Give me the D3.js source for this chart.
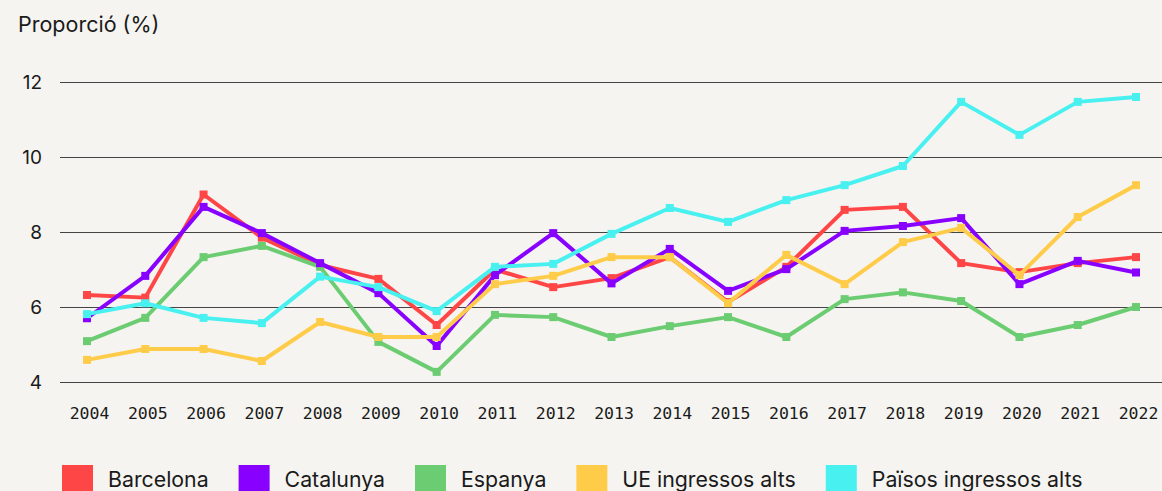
<!DOCTYPE html>
<html>
<head>
<meta charset="utf-8">
<script src="https://cdn.jsdelivr.net/npm/d3@7"></script>
<style>
  html, body { margin: 0; padding: 0; background: #f5f4f0; overflow: hidden; }
  svg { display: block; }
</style>
</head>
<body>
<div id="chart"></div>
<script>

// Data

const years = [2004, 2005, 2006, 2007, 2008, 2009, 2010, 2011, 2012, 2013,
               2014, 2015, 2016, 2017, 2018, 2019, 2020, 2021, 2022];

const barcelona = [6.32, 6.25, 9.0, 7.85, 7.12, 6.75, 5.52, 7.0, 6.53, 6.77,
                   7.33, 6.13, 7.07, 8.59, 8.67, 7.17, 6.93, 7.17, 7.33];
const catalunya = [5.7, 6.83, 8.67, 7.97, 7.17, 6.37, 4.96, 6.85, 7.97, 6.63,
                   7.55, 6.43, 7.01, 8.03, 8.16, 8.37, 6.61, 7.23, 6.92];
const espanya = [5.09, 5.71, 7.33, 7.63, 7.07, 5.07, 4.27, 5.79, 5.73, 5.2,
                 5.49, 5.73, 5.2, 6.21, 6.39, 6.16, 5.2, 5.52, 6.0];
const ueAlts = [4.59, 4.88, 4.88, 4.56, 5.6, 5.2, 5.2, 6.61, 6.83, 7.33,
                7.33, 6.1, 7.39, 6.61, 7.73, 8.11, 6.85, 8.4, 9.25];
const paisosAlts = [5.81, 6.1, 5.71, 5.57, 6.81, 6.53, 5.89, 7.07, 7.15, 7.95,
                    8.64, 8.27, 8.85, 9.25, 9.76, 11.47, 10.59, 11.47, 11.6];

const seriesNames = ["Barcelona", "Catalunya", "Espanya", "UE ingressos alts", "Països ingressos alts"];
const seriesValues = [barcelona, catalunya, espanya, ueAlts, paisosAlts];
const seriesColors = ["#ff4646", "#8800ff", "#6ccc72", "#ffcc4a", "#48f0f0"];

const yTicks = [4, 6, 8, 10, 12];

// draw order (last on top)
const drawOrder = [0, 2, 1, 3, 4];

const width = 1162;
const height = 491;

let svg = d3.select("#chart")
  .append("svg")
  .attr("width", width)
  .attr("height", height);

svg.append("rect")
  .attr("width", width)
  .attr("height", height)
  .attr("fill", "#f5f4f0");

// Scales
let xScale = d3.scalePoint()
  .domain(years)
  .range([87, 1136]);

let yScale = d3.scaleLinear()
  .domain([4, 12])
  .range([382, 82]);

// Title
svg.append("text")
  .attr("x", 18)
  .attr("y", 32)
  .attr("font-family", "Inter, 'Noto Sans', sans-serif")
  .attr("font-size", "21.5px")
  .attr("fill", "#1a1a1a")
  .text("Proporció (%)");

// Y axis with gridlines
let yAxis = svg.append("g")
  .attr("transform", "translate(60,0)")
  .call(d3.axisLeft(yScale).tickValues(yTicks).tickSize(-(width - 60)).tickPadding(18))
  .attr("font-family", "Inter, 'Noto Sans', sans-serif")
  .attr("font-size", "19px");
yAxis.select(".domain").remove();
yAxis.selectAll(".tick line").attr("stroke", "#444").attr("stroke-width", 1.2);
yAxis.selectAll(".tick text").attr("fill", "#1a1a1a");

// X axis labels
let xAxis = svg.append("g")
  .attr("transform", "translate(2,401)")
  .call(d3.axisBottom(xScale).tickSize(0).tickPadding(6))
  .attr("font-family", "'DejaVu Sans Mono', monospace")
  .attr("font-size", "16.5px");
xAxis.select(".domain").remove();
xAxis.selectAll(".tick text").attr("fill", "#1a1a1a");

// Lines
let line = d3.line()
  .x((d, i) => xScale(years[i]))
  .y(d => yScale(d));

drawOrder.forEach(function(s) {
  let g = svg.append("g");
  g.append("path")
    .datum(seriesValues[s])
    .attr("d", line)
    .attr("fill", "none")
    .attr("stroke", seriesColors[s])
    .attr("stroke-width", 4)
    .attr("stroke-linejoin", "round");
  g.selectAll(".point")
    .data(seriesValues[s])
    .enter()
    .append("rect")
      .attr("class", "point")
      .attr("x", (d, i) => xScale(years[i]) - 4)
      .attr("y", d => yScale(d) - 4)
      .attr("width", 8)
      .attr("height", 8)
      .attr("fill", seriesColors[s]);
});

// Legend
let legend = svg.append("g")
  .attr("font-family", "Inter, 'Noto Sans', sans-serif")
  .attr("font-size", "21.3px");

let lx = 62;
seriesNames.forEach(function(name, i) {
  legend.append("rect")
    .attr("x", lx)
    .attr("y", 465)
    .attr("width", 31)
    .attr("height", 31)
    .attr("fill", seriesColors[i]);
  let t = legend.append("text")
    .attr("x", lx + 46)
    .attr("y", 487)
    .attr("fill", "#1a1a1a")
    .text(name);
  lx = lx + 46 + t.node().getComputedTextLength() + 30;
});

</script>
</body>
</html>
